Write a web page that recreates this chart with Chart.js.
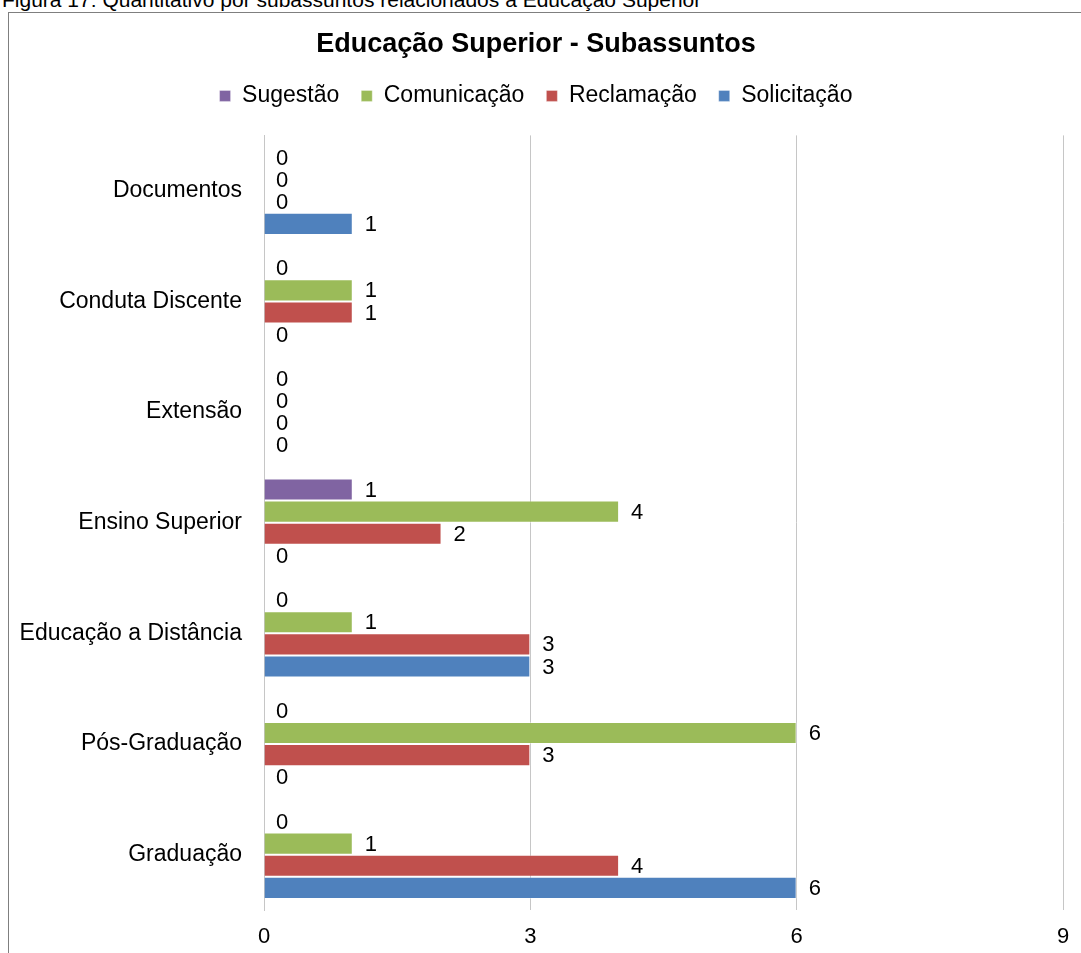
<!DOCTYPE html>
<html>
<head>
<meta charset="utf-8">
<script src="https://cdn.jsdelivr.net/npm/chart.js@4"></script>
<style>
  body { margin: 0; background: #fff; overflow: hidden; width: 1081px; height: 953px; position: relative; font-family: "Liberation Sans", Arial, sans-serif; }
  #caption { position: absolute; left: 2px; top: -12px; font-size: 21px; color: #000; white-space: nowrap; }
  #frame { position: absolute; left: 8px; top: 12px; width: 2000px; height: 2000px; border: 1px solid #7f7f7f; }
  #wrap { position: absolute; left: 9px; top: 13px; width: 1072px; height: 940px; }
</style>
</head>
<body>
<div id="caption">Figura 17: Quantitativo por subassuntos relacionados à Educação Superior</div>
<div id="frame"></div>
<div id="wrap"><canvas id="chart"></canvas></div>
<script>
const categories = ["Documentos", "Conduta Discente", "Extensão", "Ensino Superior", "Educação a Distância", "Pós-Graduação", "Graduação"];
const sugestao    = [0, 0, 0, 1, 0, 0, 0];
const comunicacao = [0, 1, 0, 4, 1, 6, 1];
const reclamacao  = [0, 1, 0, 2, 3, 3, 4];
const solicitacao = [1, 0, 0, 0, 3, 0, 6];
const xTicks = [0, 3, 6, 9];

const FONT = "'Liberation Sans', Arial, sans-serif";

// rotulos de valor no fim de cada barra
const valueLabels = {
  id: "valueLabels",
  afterDatasetsDraw(chart) {
    const ctx = chart.ctx;
    ctx.save();
    ctx.font = "22px " + FONT;
    ctx.fillStyle = "#000";
    ctx.textBaseline = "middle";
    ctx.textAlign = "left";
    chart.data.datasets.forEach((ds, i) => {
      const meta = chart.getDatasetMeta(i);
      meta.data.forEach((bar, j) => {
        ctx.fillText(String(ds.data[j]), bar.x + 12, bar.y + 1);
      });
    });
    ctx.restore();
  },
};

// espaco extra abaixo da legenda
const legendGap = {
  id: "legendGap",
  beforeInit(chart) {
    const fit = chart.legend.fit;
    chart.legend.fit = function () {
      fit.call(this);
      this.height += 18;
    };
  },
};

new Chart(document.getElementById("chart"), {
  type: "bar",
  data: {
    labels: categories,
    datasets: [
      { label: "Sugestão", data: sugestao, backgroundColor: "#8064A2", borderColor: "rgba(255,255,255,0.35)", borderWidth: 1 },
      { label: "Comunicação", data: comunicacao, backgroundColor: "#9BBB59", borderColor: "rgba(255,255,255,0.35)", borderWidth: 1 },
      { label: "Reclamação", data: reclamacao, backgroundColor: "#C0504D", borderColor: "rgba(255,255,255,0.35)", borderWidth: 1 },
      { label: "Solicitação", data: solicitacao, backgroundColor: "#4F81BD", borderColor: "rgba(255,255,255,0.35)", borderWidth: 1 },
    ],
  },
  options: {
    indexAxis: "y",
    responsive: true,
    maintainAspectRatio: false,
    animation: false,
    layout: { padding: { top: 0, right: 18, bottom: 0, left: 0 } },
    datasets: { bar: { categoryPercentage: 0.8, barPercentage: 1.0 } },
    plugins: {
      title: {
        display: true,
        text: "Educação Superior - Subassuntos",
        color: "#000",
        font: { family: FONT, size: 27, weight: "bold" },
        padding: { top: 15, bottom: 2 },
      },
      legend: {
        position: "top",
        labels: {
          color: "#000",
          font: { family: FONT, size: 23 },
          boxWidth: 11,
          boxHeight: 11,
          padding: 22,
        },
      },
      tooltip: { enabled: false },
    },
    scales: {
      x: {
        min: 0,
        max: 9,
        afterBuildTicks: (scale) => { scale.ticks = xTicks.map((v) => ({ value: v })); },
        afterFit: (scale) => {
          scale.height = 43;
          scale.paddingLeft = 0;
          scale.paddingRight = 0;
        },
        grid: { color: "#c6c6c6", drawTicks: false },
        border: { display: false },
        ticks: { color: "#000", font: { family: FONT, size: 22 }, padding: 14 },
      },
      y: {
        afterFit: (scale) => { scale.width = 255; },
        grid: { display: false },
        border: { display: true, color: "#c6c6c6" },
        ticks: { color: "#000", font: { family: FONT, size: 23 }, padding: 14 },
      },
    },
  },
  plugins: [valueLabels, legendGap],
});
</script>
</body>
</html>
